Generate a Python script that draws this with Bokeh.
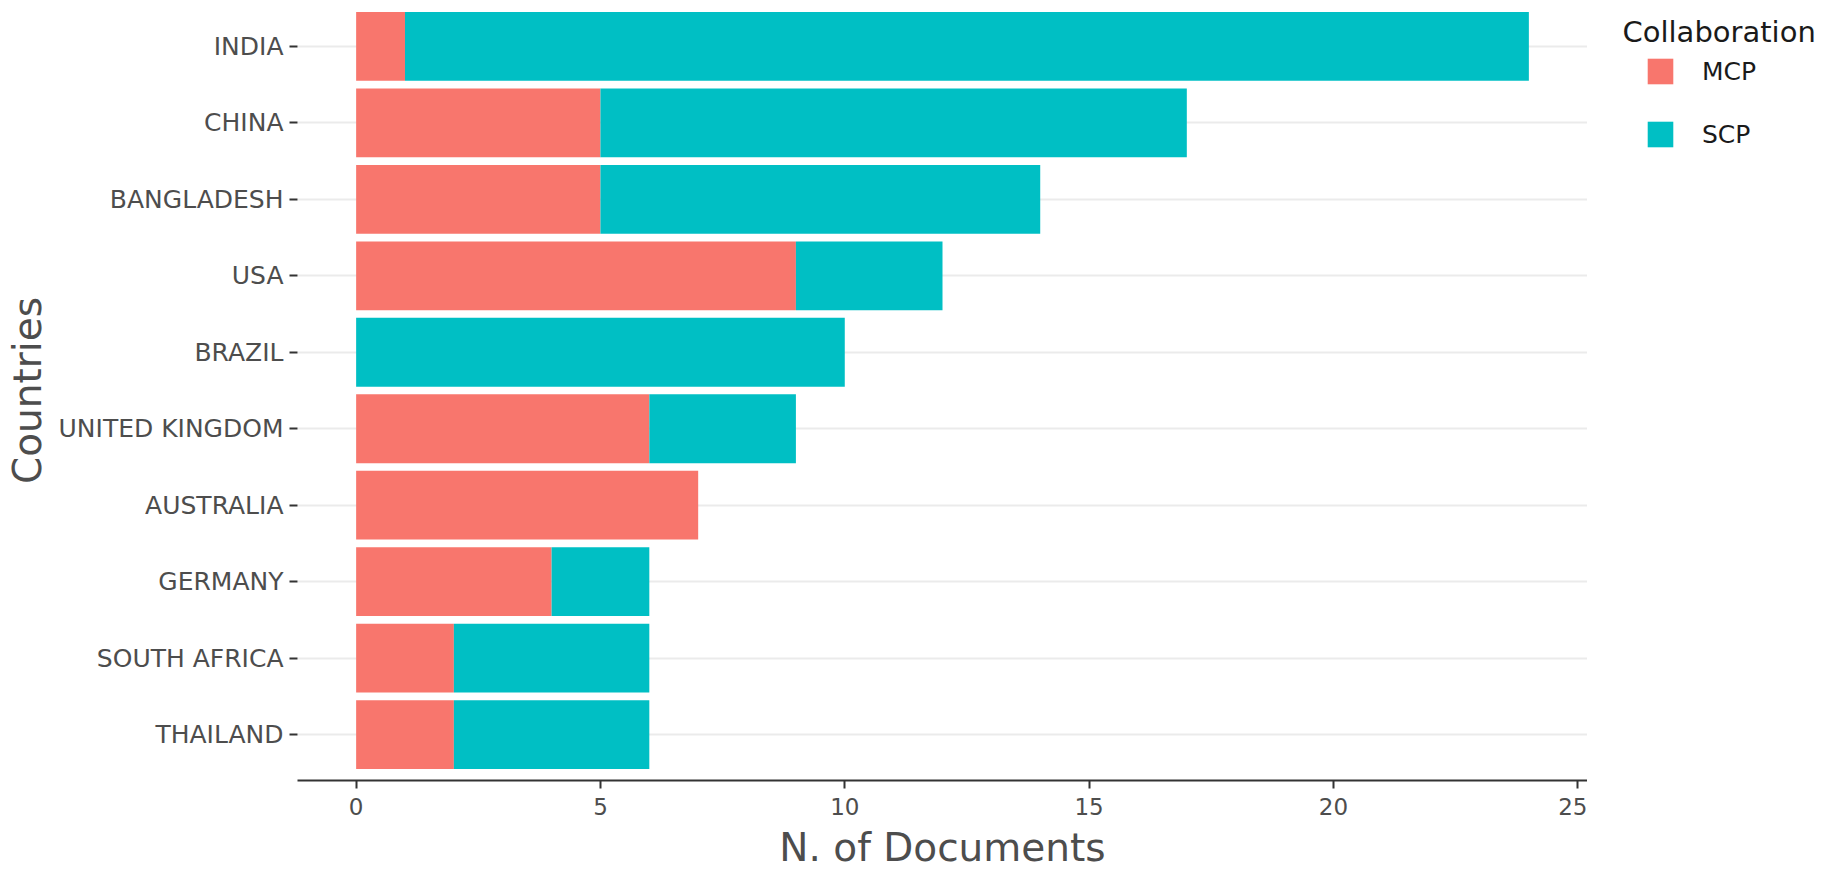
from bokeh.plotting import figure
from bokeh.layouts import row
from bokeh.models import (ColumnDataSource, FactorRange, Range1d, FixedTicker,
                          Legend, LegendItem, Label)
from bokeh.embed import file_html
from bokeh.resources import INLINE

countries = ["INDIA", "CHINA", "BANGLADESH", "USA", "BRAZIL", "UNITED KINGDOM",
             "AUSTRALIA", "GERMANY", "SOUTH AFRICA", "THAILAND"]
mcp = [1, 5, 5, 9, 0, 6, 7, 4, 2, 2]
scp = [23, 12, 9, 3, 10, 3, 0, 2, 4, 4]
series = ["MCP", "SCP"]
colors = ["#F8766D", "#00BFC4"]
x_ticks = [0, 5, 10, 15, 20, 25]

source = ColumnDataSource(dict(countries=countries, MCP=mcp, SCP=scp))

FONT = "DejaVu Sans"
GREY = "#4D4D4D"
H = 877
BOTTOM = 97

p = figure(width=1587, height=H, output_backend="svg", toolbar_location=None,
           y_range=FactorRange(factors=countries[::-1], range_padding=0.02,
                               range_padding_units="percent"),
           x_range=Range1d(-1.2, 25.2),
           min_border_left=297, min_border_right=0, min_border_top=-4,
           min_border_bottom=BOTTOM)

p.hbar_stack(series, y="countries", height=0.9, color=colors,
             line_color=None, source=source)

p.outline_line_color = None
p.xgrid.grid_line_color = None
p.ygrid.grid_line_color = "#EBEBEB"
p.ygrid.grid_line_width = 2

# x axis
p.xaxis.ticker = FixedTicker(ticks=x_ticks)
p.xaxis.axis_line_color = "#333333"
p.xaxis.axis_line_width = 2
p.xaxis.major_tick_line_color = "#333333"
p.xaxis.major_tick_line_width = 2
p.xaxis.major_tick_out = 8
p.xaxis.major_tick_in = 0
p.xaxis.minor_tick_line_color = None
p.xaxis.major_label_text_font = FONT
p.xaxis.major_label_text_font_size = "23px"
p.xaxis.major_label_text_color = GREY
p.xaxis.major_label_standoff = 9
p.xaxis.axis_label = "N. of Documents"
p.xaxis.axis_label_text_font = FONT
p.xaxis.axis_label_text_font_size = "39px"
p.xaxis.axis_label_text_font_style = "normal"
p.xaxis.axis_label_text_color = GREY
p.xaxis.axis_label_standoff = 7

# y axis
p.yaxis.axis_line_color = None
p.yaxis.major_tick_line_color = "#333333"
p.yaxis.major_tick_line_width = 2
p.yaxis.major_tick_out = 8
p.yaxis.major_tick_in = 0
p.yaxis.minor_tick_line_color = None
p.yaxis.major_label_text_font = FONT
p.yaxis.major_label_text_font_size = "25px"
p.yaxis.major_label_text_color = GREY
p.yaxis.major_label_standoff = 6
p.yaxis.axis_label = "Countries"
p.yaxis.axis_label_text_font = FONT
p.yaxis.axis_label_text_font_size = "39px"
p.yaxis.axis_label_text_font_style = "normal"
p.yaxis.axis_label_text_color = GREY
p.yaxis.axis_label_standoff = 6

# legend panel: a second canvas to the right with the same frame height.
# Its x range lies outside the data, so its copies of the bars are clipped away
# and they only serve as legend renderers.
LW = 1831 - 1587
lg = figure(width=LW, height=H, output_backend="svg", toolbar_location=None,
            x_range=Range1d(-2, -1),
            y_range=FactorRange(factors=countries[::-1]),
            min_border_left=0, min_border_right=0,
            min_border_top=0, min_border_bottom=BOTTOM)
lg.axis.visible = False
lg.grid.grid_line_color = None
lg.outline_line_color = None

keys = lg.hbar_stack(series, y="countries", height=0.9, color=colors,
                     line_color=None, source=source)
legend = Legend(items=[LegendItem(label=s, renderers=[r]) for s, r in zip(series, keys)],
                location=(57, 630), glyph_width=32, glyph_height=32,
                label_height=32, spacing=31, padding=0, margin=0,
                label_standoff=26, border_line_color=None,
                background_fill_alpha=0, label_text_font=FONT,
                label_text_font_size="25px", label_text_color="#1A1A1A")
lg.add_layout(legend, "center")

title = Label(x=35, y=749, x_units="screen", y_units="screen",
              text="Collaboration", text_font=FONT, text_font_size="29px",
              text_color="#1A1A1A", text_baseline="alphabetic")
lg.add_layout(title)

layout = row(p, lg, spacing=0)
open("out.html", "w").write(file_html(layout, INLINE))
